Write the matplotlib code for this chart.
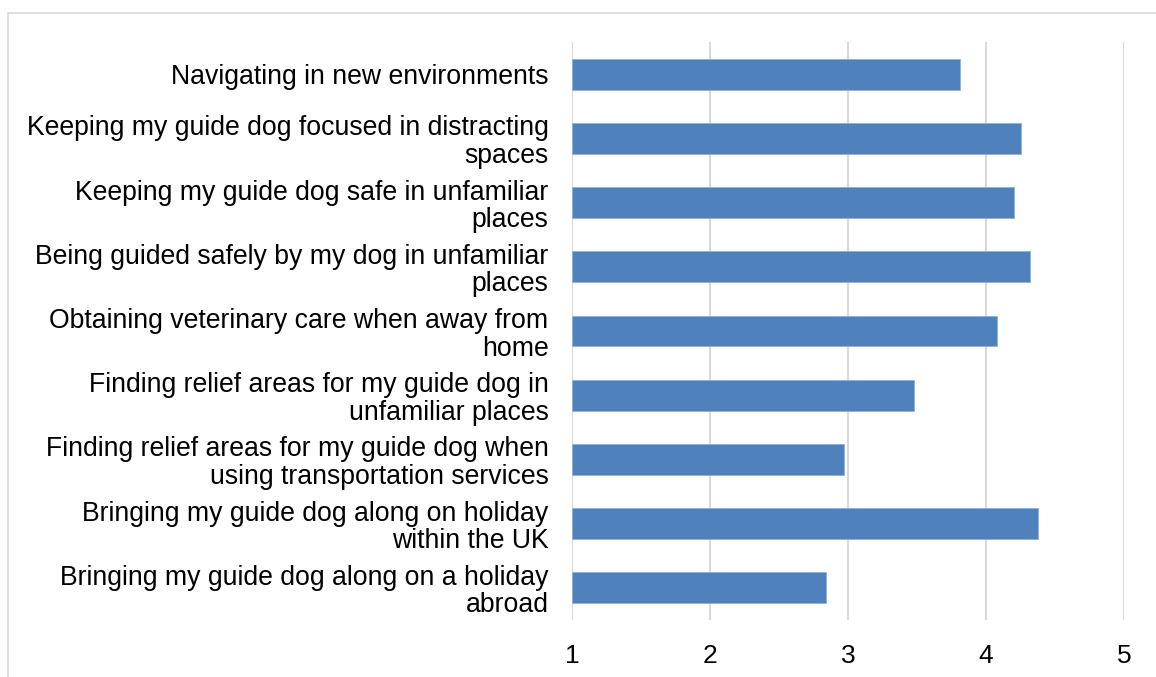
import matplotlib
matplotlib.use("Agg")
import matplotlib.pyplot as plt
from matplotlib.patches import Rectangle

categories = [
    "Navigating in new environments",
    "Keeping my guide dog focused in distracting\nspaces",
    "Keeping my guide dog safe in unfamiliar\nplaces",
    "Being guided safely by my dog in unfamiliar\nplaces",
    "Obtaining veterinary care when away from\nhome",
    "Finding relief areas for my guide dog in\nunfamiliar places",
    "Finding relief areas for my guide dog when\nusing transportation services",
    "Bringing my guide dog along on holiday\nwithin the UK",
    "Bringing my guide dog along on a holiday\nabroad",
]
values = [3.81, 4.25, 4.20, 4.32, 4.08, 3.48, 2.97, 4.38, 2.84]
xticks = [1, 2, 3, 4, 5]

plt.rcParams['font.family'] = ['Liberation Sans', 'DejaVu Sans']

W, H = 1156, 677
fig = plt.figure(figsize=(W / 100, H / 100), dpi=100)
fig.patch.set_facecolor('white')

# outer chart frame (partially cropped)
fig.patches.append(Rectangle((8 / W, -0.05), 1.2, 1 - 13 / H + 0.05,
                             transform=fig.transFigure, fill=False,
                             edgecolor='#d9d9d9', linewidth=1.2))

ax = fig.add_axes([572 / W, 1 - 620 / H, (1124 - 572) / W, (620 - 42) / H])
y = list(range(len(categories)))
ax.barh(y, [v - 1 for v in values], left=1, height=0.48, color='#4f81bd',
        edgecolor='#8eb0db', linewidth=0.6, zorder=3)
ax.set_ylim(len(categories) - 0.5, -0.5)
ax.set_xlim(1, 5)
ax.set_xticks(xticks)
ax.set_xticklabels([str(t) for t in xticks], fontsize=19)
ax.set_yticks(y)
ax.set_yticklabels(categories, fontsize=19.2, linespacing=1.08)
ax.tick_params(axis='both', length=0)
ax.tick_params(axis='x', pad=17)
ax.tick_params(axis='y', pad=17)
ax.grid(axis='x', color='#d9d9d9', linewidth=1.5, zorder=0)
for s in ax.spines.values():
    s.set_visible(False)

fig.savefig("out.png", dpi=100)
